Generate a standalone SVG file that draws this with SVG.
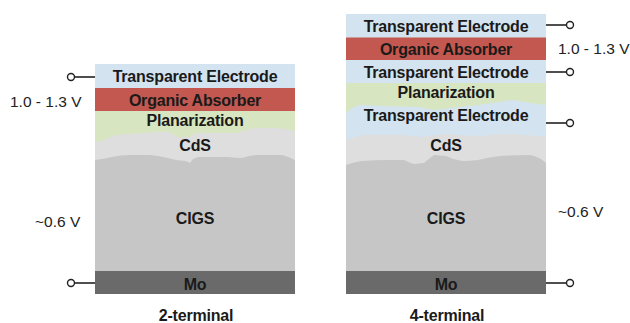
<svg xmlns="http://www.w3.org/2000/svg" width="630" height="323" viewBox="0 0 630 323">
<style>
.lbl{font-family:"Liberation Sans",Arial,sans-serif;font-weight:bold;font-size:16px;letter-spacing:-0.2px;fill:#1a1a1a;text-anchor:middle}
.v{font-family:"Liberation Sans",Arial,sans-serif;font-size:15.5px;fill:#222}
.te{fill:#d3e3ef}.oa{fill:#c2584f}.pl{fill:#d7e5c0}.cds{fill:#dedede}.cigs{fill:#c6c6c6}.mo{fill:#6a6a6a}
.wire{stroke:#222;stroke-width:1.6;fill:none}
.term{stroke:#222;stroke-width:1.4;fill:#fff}
</style>
<rect width="630" height="323" fill="#fff"/>
<!-- 2-terminal stack -->
<g id="left-stack">
  <g id="L-te"><rect class="te" x="95" y="64" width="200" height="24"/><text class="lbl" x="195" y="82">Transparent Electrode</text></g>
  <g id="L-oa"><rect class="oa" x="95" y="88" width="200" height="23"/><text class="lbl" x="195" y="106">Organic Absorber</text></g>
  <g id="L-pl"><rect class="pl" x="95" y="111" width="200" height="50"/><text class="lbl" x="195" y="126">Planarization</text></g>
  <g id="L-cds"><path class="cds" d="M95,142 Q104,141 110,137 Q118,134 130,134 Q145,133 155,132 L170,132 Q174,136 178,137 L190,137 Q194,133 200,133 L237,133 Q247,129 257,128 L277,128 Q287,129 295,131 L295,180 L95,180 Z"/><text class="lbl" x="195" y="151">CdS</text></g>
  <g id="L-cigs"><path class="cigs" d="M95,160 Q104,159 112,157 Q120,155 130,155 L150,155 Q160,156 168,158 Q178,161 186,161 L190,163 L193,159 L198,157 L228,157 Q236,158 242,158 Q250,155 258,155 L282,155 Q290,157 295,160 L295,271 L95,271 Z"/><text class="lbl" x="195" y="224">CIGS</text></g>
  <g id="L-mo"><rect class="mo" x="95" y="271" width="200" height="23"/><text class="lbl" x="195" y="289.5">Mo</text></g>
  <text class="lbl" x="196" y="320.5">2-terminal</text>
</g>
<!-- 4-terminal stack -->
<g id="right-stack">
  <g id="R-te1"><rect class="te" x="346" y="14" width="200" height="24"/><text class="lbl" x="446" y="31.5">Transparent Electrode</text></g>
  <g id="R-oa"><rect class="oa" x="346" y="37.5" width="200" height="23"/><text class="lbl" x="446" y="54.5">Organic Absorber</text></g>
  <g id="R-te2"><rect class="te" x="346" y="60" width="200" height="23"/><text class="lbl" x="446" y="78">Transparent Electrode</text></g>
  <g id="R-pl"><rect class="pl" x="346" y="83" width="200" height="40"/><text class="lbl" x="446" y="98">Planarization</text></g>
  <g id="R-te3"><path class="te" d="M346,113 Q352,107 360,105 Q370,105 382,106 L418,107 Q426,108 433,110 Q442,110 450,108 Q466,106 480,105 Q498,102 512,100 Q522,101 530,103 L546,105 L546,160 L346,160 Z"/><text class="lbl" x="446" y="121">Transparent Electrode</text></g>
  <g id="R-cds"><path class="cds" d="M346,140 Q354,137 365,135 L400,135 Q410,136 420,137 Q435,135 450,134 Q465,136 480,136 Q495,134 510,134 Q530,135 546,137 L546,180 L346,180 Z"/><text class="lbl" x="446" y="151">CdS</text></g>
  <g id="R-cigs"><path class="cigs" d="M346,165 Q354,162 362,161 Q375,160 390,160 L404,160 Q410,163 414,164 L424,163 L430,158 L434,155 L446,156 Q454,160 462,161 Q470,161 478,160 Q490,157 500,156 Q515,155 530,155 Q540,157 546,163 L546,271 L346,271 Z"/><text class="lbl" x="446" y="224">CIGS</text></g>
  <g id="R-mo"><rect class="mo" x="346" y="271" width="200" height="23"/><text class="lbl" x="446" y="289.5">Mo</text></g>
  <text class="lbl" x="447" y="320.5">4-terminal</text>
</g>
<!-- voltage labels -->
<g id="voltages">
  <text class="v" x="10" y="107">1.0 - 1.3 V</text>
  <text class="v" x="35" y="227">~0.6 V</text>
  <text class="v" x="558" y="54">1.0 - 1.3 V</text>
  <text class="v" x="558" y="217">~0.6 V</text>
</g>
<!-- connectors / terminals -->
<g id="connectors">
  <line class="wire" x1="74.5" y1="77" x2="95" y2="77"/>
  <line class="wire" x1="74.5" y1="283" x2="95" y2="283"/>
  <line class="wire" x1="546" y1="25" x2="566.5" y2="25"/>
  <line class="wire" x1="546" y1="72" x2="566.5" y2="72"/>
  <line class="wire" x1="546" y1="123" x2="566.5" y2="123"/>
  <line class="wire" x1="546" y1="283" x2="566.5" y2="283"/>
  <circle class="term" cx="71" cy="77" r="3.5"/>
  <circle class="term" cx="71" cy="283" r="3.5"/>
  <circle class="term" cx="570" cy="25" r="3.5"/>
  <circle class="term" cx="570" cy="72" r="3.5"/>
  <circle class="term" cx="570" cy="123" r="3.5"/>
  <circle class="term" cx="570" cy="283" r="3.5"/>
</g>
</svg>
